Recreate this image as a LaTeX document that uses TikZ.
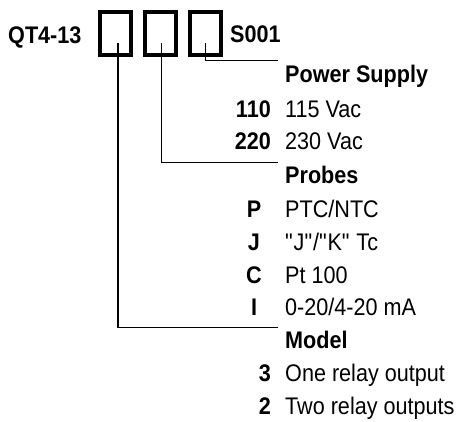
\documentclass[tikz,border=0pt]{standalone}
\usepackage{fontspec}
\setmainfont{Liberation Sans}[FakeStretch=0.9]
\usetikzlibrary{positioning}

\begin{document}
\begin{tikzpicture}[x=1pt,y=-1pt,
node distance=10.5pt,
codebox/.style={draw,line width=3.5pt,minimum width=31pt,minimum height=43pt,inner sep=0pt},
lbl/.style={inner sep=0pt,font=\fontsize{24}{28}\selectfont},
bold/.style={inner sep=0pt,font=\fontsize{24}{28}\selectfont\bfseries},
code/.style={bold,anchor=base east},
pcode/.style={bold,anchor=base},
item/.style={lbl,anchor=base west},
head/.style={bold,anchor=base west},
wire/.style={line width=1.6pt}]
\useasboundingbox (0,0) rectangle (458,421);
% order code
\node[bold,anchor=base west] (name) at (8,43) {QT4-13};
\node[codebox] (bmod) at (115.5,33.5) {};
\node[codebox,right=of bmod] (bprb) {};
\node[codebox,right=of bprb] (bpwr) {};
\node[bold,anchor=base west] (suffix) at (230,42) {S001};
% power supply
\node[head] (hpwr) at (285,82) {Power Supply};
\node[code] (c110) at (271,117) {110}; \node[item] (v110) at (285,117) {115 Vac};
\node[code] (c220) at (271,149) {220}; \node[item] (v220) at (285,149) {230 Vac};
% probes
\node[head] (hprb) at (285,183) {Probes};
\node[pcode] (cP) at (254,217) {P}; \node[item] (vP) at (285,217) {PTC/NTC};
\node[pcode] (cJ) at (254,250) {J}; \node[item] (vJ) at (285,250) {\textquotedbl J\textquotedbl/\textquotedbl K\textquotedbl{} Tc};
\node[pcode] (cC) at (254,283) {C}; \node[item] (vC) at (285,283) {Pt 100};
\node[pcode] (cI) at (254,315) {I}; \node[item] (vI) at (285,315) {0-20/4-20 mA};
% model
\node[head] (hmod) at (285,348) {Model};
\node[code] (c3) at (271,381) {3}; \node[item] (v3) at (285,381) {One relay output};
\node[code] (c2) at (271,414) {2}; \node[item] (v2) at (285,414) {Two relay outputs};
% leaders
\draw[wire] ([shift={(0pt,-9.5pt)}]bpwr.center) |- ([shift={(-7pt,4pt)}]hpwr.north west);
\draw[wire] ([shift={(1pt,-9.5pt)}]bprb.center) |- ([shift={(-7pt,3pt)}]hprb.north west);
\draw[wire] ([shift={(2.5pt,-9.5pt)}]bmod.center) |- ([shift={(-7pt,3pt)}]hmod.north west);
\end{tikzpicture}
\end{document}
